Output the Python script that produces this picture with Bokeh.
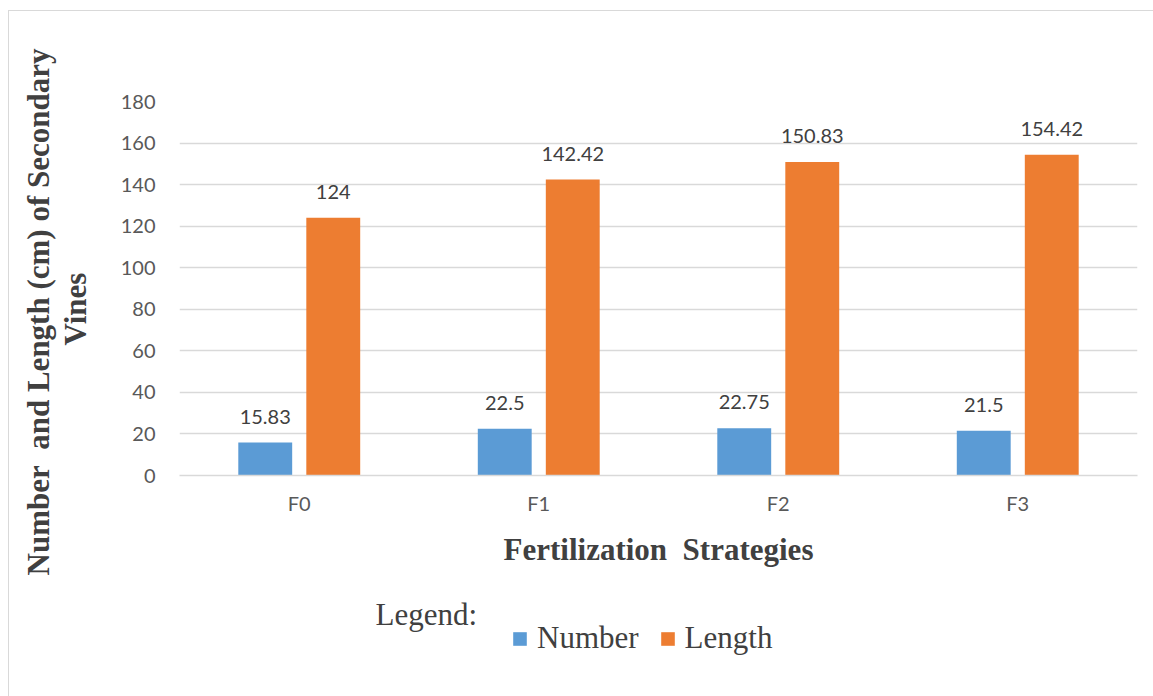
from bokeh.plotting import figure
from bokeh.layouts import column
from bokeh.models import (ColumnDataSource, FactorRange, Range1d, FixedTicker, LabelSet,
                          Label, Legend, LegendItem, Title)
from bokeh.core.properties import value
from bokeh.transform import dodge
from bokeh.embed import file_html
from bokeh.resources import INLINE

# Secondary vine measurements per fertilization strategy
strategies = ["F0", "F1", "F2", "F3"]
number_vals = [15.83, 22.5, 22.75, 21.5]
length_vals = [124, 142.42, 150.83, 154.42]
number_txt = ["15.83", "22.5", "22.75", "21.5"]
length_txt = ["124", "142.42", "150.83", "154.42"]
y_ticks = [0, 20, 40, 60, 80, 100, 120, 140, 160, 180]

BLUE = "#5B9BD5"
ORANGE = "#ED7D31"
GRID = "#D9D9D9"
TICK_TXT = "#595959"
LABEL_TXT = "#404040"
SANS = "Lato"
SERIF = "Liberation Serif"
NBSP = "\u00a0"

src = ColumnDataSource(dict(
    cat=strategies, number=number_vals, length=length_vals,
    ntxt=number_txt, ltxt=length_txt,
))

p = figure(
    width=1145, height=580, output_backend="svg", toolbar_location=None,
    x_range=FactorRange(factors=strategies, range_padding=0),
    y_range=Range1d(0, 180),
    min_border_left=170, min_border_right=17, min_border_top=90, min_border_bottom=116,
)
p.outline_line_color = None

# axes
p.yaxis.ticker = FixedTicker(ticks=y_ticks)
p.yaxis.axis_line_color = None
p.yaxis.major_tick_line_color = None
p.yaxis.minor_tick_line_color = None
p.yaxis.major_label_standoff = 18
p.yaxis.major_label_text_font = SANS
p.yaxis.major_label_text_font_size = "20px"
p.yaxis.major_label_text_color = TICK_TXT
# blank axis label: only reserves a gap before the title lines
p.yaxis.axis_label = NBSP
p.yaxis.axis_label_text_font_size = "1px"
p.yaxis.axis_label_standoff = 21

p.xaxis.axis_line_color = GRID
p.xaxis.axis_line_width = 1.5
p.xaxis.major_tick_line_color = None
p.xaxis.minor_tick_line_color = None
p.xaxis.major_label_standoff = 9
p.xaxis.major_label_text_font = SANS
p.xaxis.major_label_text_font_size = "20px"
p.xaxis.major_label_text_color = TICK_TXT
p.xaxis.axis_label = "Fertilization" + NBSP + " Strategies"
p.xaxis.axis_label_standoff = 14
p.xaxis.axis_label_text_font = SERIF
p.xaxis.axis_label_text_font_size = "31px"
p.xaxis.axis_label_text_font_style = "bold"
p.xaxis.axis_label_text_color = LABEL_TXT

p.xgrid.grid_line_color = None
p.ygrid.grid_line_color = GRID
p.ygrid.grid_line_width = 1.5

# y-axis title, two lines
for txt, off in (("Vines", 130),
                 ("Number" + NBSP + " and Length (cm) of Secondary", -100)):
    p.add_layout(Title(
        text=txt, align="left", offset=off, standoff=0,
        text_font=SERIF, text_font_size="31px", text_font_style="bold",
        text_color=LABEL_TXT,
    ), "left")

# bars
r_num = p.vbar(x=dodge("cat", -0.142, range=p.x_range), top="number", width=0.225,
               source=src, fill_color=BLUE, line_color=None)
r_len = p.vbar(x=dodge("cat", 0.142, range=p.x_range), top="length", width=0.225,
               source=src, fill_color=ORANGE, line_color=None)

# value labels above bars
for col, txt, off in (("number", "ntxt", -0.142), ("length", "ltxt", 0.142)):
    p.add_layout(LabelSet(
        x=dodge("cat", off, range=p.x_range), y=col, text=txt, source=src,
        y_offset=26, text_align="center", text_baseline="middle",
        text_font=value(SANS), text_font_size=value("20px"), text_color=value(LABEL_TXT),
    ))

# legend strip below the chart
lg = figure(
    width=1145, height=105, output_backend="svg", toolbar_location=None,
    x_range=Range1d(0, 1), y_range=Range1d(0, 1),
    x_axis_type=None, y_axis_type=None,
    min_border=0, min_border_left=0, min_border_right=0, min_border_top=0, min_border_bottom=0,
)
lg.outline_line_color = None
lg.xgrid.visible = False
lg.ygrid.visible = False
# hidden series renderers that only supply the legend swatches
key_num = lg.vbar(x="number", top="length", width=1, source=src,
                  fill_color=BLUE, line_color=None, visible=False)
key_len = lg.vbar(x="number", top="length", width=1, source=src,
                  fill_color=ORANGE, line_color=None, visible=False)

lg.add_layout(Label(
    x=196, y=82, x_units="screen", y_units="screen",
    text="Legend:", text_align="left", text_baseline="middle",
    text_font=SERIF, text_font_size="31px", text_color=LABEL_TXT,
))
legend = Legend(
    items=[LegendItem(label="Number", renderers=[key_num]),
           LegendItem(label="Length", renderers=[key_len])],
    orientation="horizontal", location=(332, 40),
    glyph_width=17, glyph_height=17, label_standoff=9, spacing=20,
    padding=0, margin=0, border_line_color=None, background_fill_alpha=0,
    inactive_fill_alpha=0,
    label_text_font=SERIF, label_text_font_size="31px", label_text_color=LABEL_TXT,
)
lg.add_layout(legend, "center")

layout = column(
    p, lg, spacing=0,
    margin=(10, 0, 0, 8),
    styles={"border": "1px solid #D9D9D9"},
)

open("out.html", "w").write(file_html(layout, INLINE))
